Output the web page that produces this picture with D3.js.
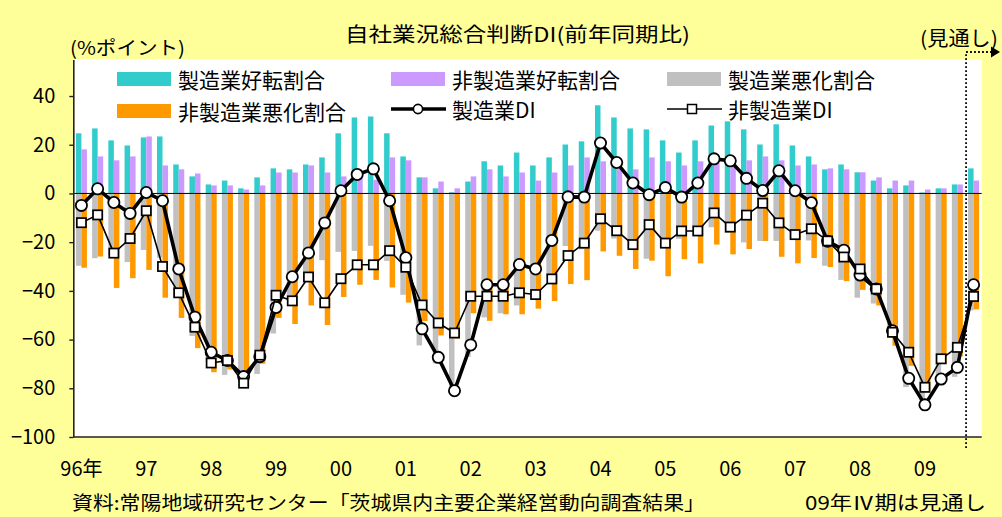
<!DOCTYPE html>
<html>
<head>
<meta charset="utf-8">
<script src="https://cdn.jsdelivr.net/npm/d3@7"></script>
<style>
  html, body { margin: 0; padding: 0; background: #FFFF99; }
  svg { display: block; }
  text { font-family: "Noto Sans CJK JP", "Noto Sans", sans-serif; fill: #000; }
</style>
</head>
<body>
<svg id="chart" width="1002" height="517"></svg>
<script>
// Quarterly survey results, 1996 Q1 – 2009 Q4 (2009 Q4 is a forecast)
const years = ["96","97","98","99","00","01","02","03","04","05","06","07","08","09"];
const yearLabels = ["96年","97","98","99","00","01","02","03","04","05","06","07","08","09"];
const quarterNames = ["Q1","Q2","Q3","Q4"];
const categories = years.flatMap(y => quarterNames.map(q => y + q));

// 製造業好転割合 (share of manufacturers reporting improvement, %)
const mfgImprove = [
  24.7, 26.7, 21.8, 19.7, 23.0, 23.4, 11.9, 7.0, 3.7, 5.3, 2.1, 6.6,
  10.3, 9.9, 11.9, 14.8, 24.7, 31.2, 31.6, 24.7, 15.2, 6.6, 2.1, 0.5,
  4.9, 13.2, 11.5, 16.8, 11.5, 14.8, 20.1, 21.4, 36.2, 31.2, 26.7, 26.3,
  21.8, 16.8, 21.8, 27.9, 29.6, 26.3, 20.1, 28.4, 19.7, 15.2, 9.9, 11.9,
  8.7, 5.3, 2.1, 3.3, 0.4, 2.1, 3.7, 10.3
];
// 非製造業好転割合
const nonMfgImprove = [
  18.1, 15.2, 13.6, 15.2, 23.4, 11.5, 9.9, 8.2, 3.3, 3.3, 1.6, 3.3,
  8.6, 8.6, 11.5, 8.6, 7.0, 7.0, 5.6, 14.8, 13.6, 6.6, 4.9, 2.1,
  7.0, 9.9, 7.0, 8.6, 5.3, 8.6, 11.5, 14.8, 13.2, 10.0, 9.9, 14.8,
  13.2, 11.5, 13.2, 13.0, 11.0, 13.6, 15.2, 13.6, 11.5, 11.9, 10.3, 9.9,
  8.7, 6.6, 5.3, 5.3, 1.6, 2.1, 3.7, 5.3
];
// 製造業悪化割合 (plotted below zero)
const mfgWorsen = [
  -29.7, -26.6, -25.5, -28.2, -23.2, -26.4, -42.9, -58.5, -68.9, -74.5, -77.3, -74.1,
  -57.5, -44.1, -36.3, -27.4, -24.0, -23.6, -21.5, -27.7, -41.6, -62.4, -69.8, -81.5,
  -67.1, -50.9, -49.2, -46.0, -42.5, -34.1, -21.6, -22.9, -15.3, -18.5, -22.4, -26.8,
  -19.4, -18.6, -17.5, -13.9, -16.2, -20.1, -19.5, -19.5, -18.9, -19.3, -29.7, -35.5,
  -42.8, -45.2, -58.5, -79.5, -87.2, -78.3, -75.3, -48.0
];
// 非製造業悪化割合
const nonMfgWorsen = [
  -30.5, -25.9, -38.8, -34.8, -31.4, -42.8, -51.1, -63.5, -73.4, -72.3, -79.5, -69.9,
  -51.1, -53.6, -46.0, -54.0, -42.5, -37.5, -35.5, -38.6, -44.8, -52.4, -58.3, -59.6,
  -49.2, -52.3, -49.6, -49.6, -47.3, -44.2, -37.2, -35.6, -23.8, -25.6, -31.0, -27.6,
  -34.0, -27.0, -28.7, -21.0, -25.0, -22.8, -19.5, -26.0, -28.7, -26.5, -30.2, -36.0,
  -39.6, -46.0, -62.5, -70.8, -81.0, -70.0, -66.9, -47.6
];
// 製造業DI
const mfgDI = [
  -4.9, 1.9, -3.7, -8.2, 0.4, -3.0, -31.0, -50.8, -65.2, -68.6, -75.2, -67.0,
  -46.8, -34.2, -24.4, -12.1, 1.1, 7.8, 10.1, -3.0, -26.4, -55.6, -67.3, -81.0,
  -62.2, -37.5, -37.5, -29.2, -31.0, -19.3, -1.4, -1.5, 20.7, 12.7, 4.3, -0.5,
  2.4, -1.5, 4.3, 14.2, 13.4, 6.2, 1.2, 9.3, 1.1, -3.8, -19.6, -23.3,
  -33.5, -39.2, -56.4, -75.9, -86.8, -76.2, -71.4, -37.5
];
// 非製造業DI
const nonMfgDI = [
  -12.0, -8.8, -24.5, -18.5, -7.1, -30.0, -40.8, -54.9, -69.6, -68.6, -77.9, -66.4,
  -41.8, -44.1, -34.3, -44.9, -35.0, -29.3, -29.3, -23.5, -30.3, -45.8, -53.2, -57.3,
  -42.2, -42.2, -42.2, -40.8, -41.5, -35.1, -25.5, -20.4, -10.4, -15.3, -21.0, -12.8,
  -20.4, -15.4, -15.4, -8.0, -13.8, -8.9, -4.0, -12.1, -16.9, -14.5, -19.5, -26.1,
  -31.0, -39.2, -57.0, -65.2, -79.6, -67.9, -63.2, -42.3
];
const yTicks = [40, 20, 0, -20, -40, -60, -80, -100];
const forecastFrom = "09Q4";

const colors = {
  mfgImprove: "#33CCCC",
  nonMfgImprove: "#CC99FF",
  mfgWorsen: "#C0C0C0",
  nonMfgWorsen: "#FF9900"
};

const svg = d3.select("#chart");
const plot = { left: 73.3, right: 981.7, top: 59.5, bottom: 437 };

const x = d3.scaleBand()
  .domain(categories)
  .range([plot.left, plot.right])
  .paddingInner(0.32)
  .paddingOuter(0.16);
const slot = d3.scaleBand().domain(["mfg", "non"]).range([0, x.bandwidth()]);
const y = d3.scaleLinear().domain([-100, 55]).range([plot.bottom, plot.top]);
const cx = c => x(c) + x.bandwidth() / 2;

// plot area
svg.append("rect")
  .attr("x", plot.left).attr("y", plot.top - 0.5)
  .attr("width", plot.right - plot.left).attr("height", plot.bottom - plot.top + 0.5)
  .attr("fill", "#fff");

// bars
const barSeries = [
  { vals: mfgImprove, slot: "mfg", color: colors.mfgImprove },
  { vals: nonMfgImprove, slot: "non", color: colors.nonMfgImprove },
  { vals: mfgWorsen, slot: "mfg", color: colors.mfgWorsen },
  { vals: nonMfgWorsen, slot: "non", color: colors.nonMfgWorsen }
];
barSeries.forEach(s => {
  svg.append("g").selectAll("rect")
    .data(categories.map((c, i) => ({ c, v: s.vals[i] })))
    .join("rect")
    .attr("x", d => x(d.c) + slot(s.slot))
    .attr("width", slot.bandwidth())
    .attr("y", d => Math.min(y(d.v), y(0)))
    .attr("height", d => Math.abs(y(d.v) - y(0)))
    .attr("fill", s.color);
});

// zero line
svg.append("line")
  .attr("x1", plot.left).attr("x2", plot.right)
  .attr("y1", y(0)).attr("y2", y(0))
  .attr("stroke", "#000").attr("stroke-width", 1);

// y axis
const yAxis = d3.axisLeft(y).tickValues(yTicks).tickSize(4).tickSizeOuter(0).tickPadding(14);
const yg = svg.append("g").attr("transform", `translate(${plot.left},0)`).call(yAxis);
yg.select(".domain").attr("stroke", "#222").attr("stroke-width", 1.6);
yg.selectAll(".tick line").attr("stroke", "#222").attr("stroke-width", 1.4);
yg.selectAll(".tick text")
  .attr("font-family", "'Liberation Sans', Arial, sans-serif")
  .attr("font-size", 20).attr("fill", "#000");

// bottom axis line
svg.append("line")
  .attr("x1", plot.left).attr("x2", plot.right)
  .attr("y1", plot.bottom).attr("y2", plot.bottom)
  .attr("stroke", "#222").attr("stroke-width", 1.6);

// year labels under the first quarter of each year
svg.append("g").selectAll("text")
  .data(years.map((yr, i) => ({ c: yr + "Q1", label: yearLabels[i] })))
  .join("text")
  .attr("x", d => cx(d.c))
  .attr("y", 467)
  .attr("text-anchor", "middle")
  .attr("dominant-baseline", "central")
  .attr("font-size", 20)
  .text(d => d.label);

// DI lines
const line = d3.line().x(d => cx(d.c)).y(d => y(d.v));
const mfgPts = categories.map((c, i) => ({ c, v: mfgDI[i] }));
const nonPts = categories.map((c, i) => ({ c, v: nonMfgDI[i] }));

svg.append("path").datum(mfgPts).attr("d", line)
  .attr("fill", "none").attr("stroke", "#000").attr("stroke-width", 3.6).attr("stroke-linejoin", "round");
svg.append("g").selectAll("circle").data(mfgPts).join("circle")
  .attr("cx", d => cx(d.c)).attr("cy", d => y(d.v)).attr("r", 5.6)
  .attr("fill", "#fff").attr("stroke", "#000").attr("stroke-width", 1.8);

svg.append("path").datum(nonPts).attr("d", line)
  .attr("fill", "none").attr("stroke", "#000").attr("stroke-width", 1.6).attr("stroke-linejoin", "round");
svg.append("g").selectAll("rect").data(nonPts).join("rect")
  .attr("x", d => cx(d.c) - 4.6).attr("y", d => y(d.v) - 4.6)
  .attr("width", 9.2).attr("height", 9.2)
  .attr("fill", "#fff").attr("stroke", "#000").attr("stroke-width", 1.7);

// forecast marker: dotted divider with arrow
const fx = x(forecastFrom) - 2;
svg.append("path")
  .attr("d", `M${fx},448 V52 H992`)
  .attr("fill", "none").attr("stroke", "#000").attr("stroke-width", 1.8)
  .attr("stroke-dasharray", "1.8,2.2");
svg.append("path")
  .attr("d", "M991,46.5 L1000,52 L991,57.5 Z")
  .attr("fill", "#000");

// legend
const legend = svg.append("g");
const legendItems = [
  { type: "rect", color: colors.mfgImprove, label: "製造業好転割合", x: 117, y: 79 },
  { type: "rect", color: colors.nonMfgImprove, label: "非製造業好転割合", x: 391, y: 79 },
  { type: "rect", color: colors.mfgWorsen, label: "製造業悪化割合", x: 667, y: 79 },
  { type: "rect", color: colors.nonMfgWorsen, label: "非製造業悪化割合", x: 117, y: 111 },
  { type: "circle", label: "製造業DI", x: 391, y: 109 },
  { type: "square", label: "非製造業DI", x: 667, y: 109 }
];
legendItems.forEach(it => {
  if (it.type === "rect") {
    legend.append("rect").attr("x", it.x).attr("y", it.y - 7).attr("width", 54).attr("height", 14).attr("fill", it.color);
  } else if (it.type === "circle") {
    legend.append("line").attr("x1", it.x).attr("x2", it.x + 55).attr("y1", it.y).attr("y2", it.y)
      .attr("stroke", "#000").attr("stroke-width", 3.4);
    legend.append("circle").attr("cx", it.x + 27).attr("cy", it.y).attr("r", 4.6)
      .attr("fill", "#fff").attr("stroke", "#000").attr("stroke-width", 1.6);
  } else {
    legend.append("line").attr("x1", it.x).attr("x2", it.x + 55).attr("y1", it.y).attr("y2", it.y)
      .attr("stroke", "#000").attr("stroke-width", 1.5);
    legend.append("rect").attr("x", it.x + 20.5).attr("y", it.y - 4.5).attr("width", 9).attr("height", 9)
      .attr("fill", "#fff").attr("stroke", "#000").attr("stroke-width", 1.5);
  }
  legend.append("text")
    .attr("x", it.x + 61).attr("y", it.y)
    .attr("dominant-baseline", "central")
    .attr("font-size", 21)
    .text(it.label);
});

// titles and notes
function note(txt, xPos, yPos, size, width) {
  svg.append("text").attr("x", xPos).attr("y", yPos)
    .attr("dominant-baseline", "central").attr("font-size", size)
    .attr("textLength", width).attr("lengthAdjust", "spacingAndGlyphs")
    .text(txt);
}
note("自社業況総合判断DI(前年同期比)", 345, 33, 20, 345);
note("(%ポイント)", 70, 46, 19, 115);
note("(見通し)", 920, 37, 20, 78);
note("資料:常陽地域研究センター「茨城県内主要企業経営動向調査結果」", 72, 501, 19, 633);
note("09年Ⅳ期は見通し", 805, 501, 19, 181);
</script>
</body>
</html>
